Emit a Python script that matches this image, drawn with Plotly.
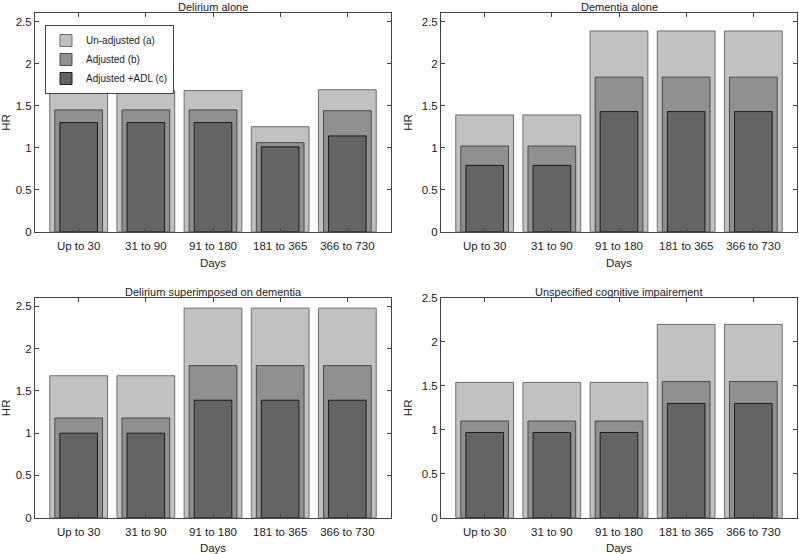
import plotly.graph_objects as go
from plotly.subplots import make_subplots

periods = ['Up to 30', '31 to 90', '91 to 180', '181 to 365', '366 to 730']
panel_titles = ['Delirium alone', 'Dementia alone',
                'Delirium superimposed on dementia', 'Unspecified cognitive impairement']

# HR per panel: un-adjusted (a), adjusted (b), adjusted + ADL (c)
delirium_a = [1.68, 1.68, 1.68, 1.25, 1.69]
delirium_b = [1.45, 1.45, 1.45, 1.06, 1.44]
delirium_c = [1.30, 1.30, 1.30, 1.01, 1.14]

dementia_a = [1.39, 1.39, 2.39, 2.39, 2.39]
dementia_b = [1.02, 1.02, 1.84, 1.84, 1.84]
dementia_c = [0.79, 0.79, 1.43, 1.43, 1.43]

superimp_a = [1.68, 1.68, 2.48, 2.48, 2.48]
superimp_b = [1.18, 1.18, 1.80, 1.80, 1.80]
superimp_c = [1.00, 1.00, 1.39, 1.39, 1.39]

unspec_a = [1.54, 1.54, 1.54, 2.20, 2.20]
unspec_b = [1.10, 1.10, 1.10, 1.55, 1.55]
unspec_c = [0.97, 0.97, 0.97, 1.30, 1.30]

series_names = ['Un-adjusted (a)', 'Adjusted (b)', 'Adjusted +ADL (c)']
fills = ['#c0c1c3', '#8f9092', '#636466']
edges = ['#6e6e70', '#4a4a4c', '#1e1e20']
widths = [0.86, 0.71, 0.56]

panels = [
    (delirium_a, delirium_b, delirium_c),
    (dementia_a, dementia_b, dementia_c),
    (superimp_a, superimp_b, superimp_c),
    (unspec_a, unspec_b, unspec_c),
]
ytops = [2.6, 2.6, 2.6, 2.5]

W, H = 799, 554
x_doms = [[35 / W, 391 / W], [441 / W, 797 / W]]
y_doms = [[1 - 231.7 / H, 1 - 13.3 / H], [1 - 517.7 / H, 1 - 298 / H]]

fig = make_subplots(rows=2, cols=2)
xs = [1, 2, 3, 4, 5]

for i, vals in enumerate(panels):
    r, c = i // 2 + 1, i % 2 + 1
    for k in range(3):
        fig.add_trace(go.Bar(
            x=xs, y=vals[k], width=widths[k], name=series_names[k],
            marker=dict(color=fills[k], line=dict(color=edges[k], width=1)),
            showlegend=(i == 0), legendgroup=series_names[k], hoverinfo='skip'
        ), row=r, col=c)

    axn = '' if i == 0 else str(i + 1)
    fig.layout['xaxis' + axn].update(
        domain=x_doms[c - 1], range=[0.35, 5.65], tickvals=xs, ticktext=periods,
        ticks='inside', ticklen=4, tickcolor='#444', showline=True, linecolor='#444',
        linewidth=1, mirror='ticks', showgrid=False, zeroline=False, automargin=False,
        ticklabelstandoff=3,
        title=dict(text='Days', standoff=8, font=dict(size=11.5, color='#222')),
        tickfont=dict(size=11.5, color='#222'), fixedrange=True
    )
    fig.layout['yaxis' + axn].update(
        domain=y_doms[r - 1], range=[0, ytops[i]], tickvals=[0, 0.5, 1, 1.5, 2, 2.5],
        ticktext=['0', '0.5', '1', '1.5', '2', '2.5'],
        ticks='inside', ticklen=4, tickcolor='#444', showline=True, linecolor='#444',
        linewidth=1, mirror='ticks', showgrid=False, zeroline=False, automargin=False,
        title=dict(text='HR', standoff=6, font=dict(size=11.5, color='#222')),
        tickfont=dict(size=11.5, color='#222'), fixedrange=True
    )
    fig.add_annotation(
        text=panel_titles[i], xref='paper', yref='paper', xanchor='center',
        x=sum(x_doms[c - 1]) / 2, y=y_doms[r - 1][1], yanchor='bottom',
        showarrow=False, font=dict(size=11, color='#222'), yshift=-2
    )

fig.update_layout(
    barmode='overlay',
    width=W, height=H,
    margin=dict(l=0, r=0, t=0, b=0, autoexpand=False),
    paper_bgcolor='white', plot_bgcolor='white',
    font=dict(family='Liberation Sans, Arial, sans-serif', size=11, color='#222'),
    legend=dict(
        x=45 / W, y=1 - 25 / H, xanchor='left', yanchor='top',
        bgcolor='white', bordercolor='#444', borderwidth=1,
        font=dict(size=10, color='#222'), tracegroupgap=0, itemwidth=30
    ),
)

# drop the browser's default body margin so the figure sits at the page origin
fig.write_html("out.html", config={'displayModeBar': False},
               post_script="document.body.style.margin='0';")
